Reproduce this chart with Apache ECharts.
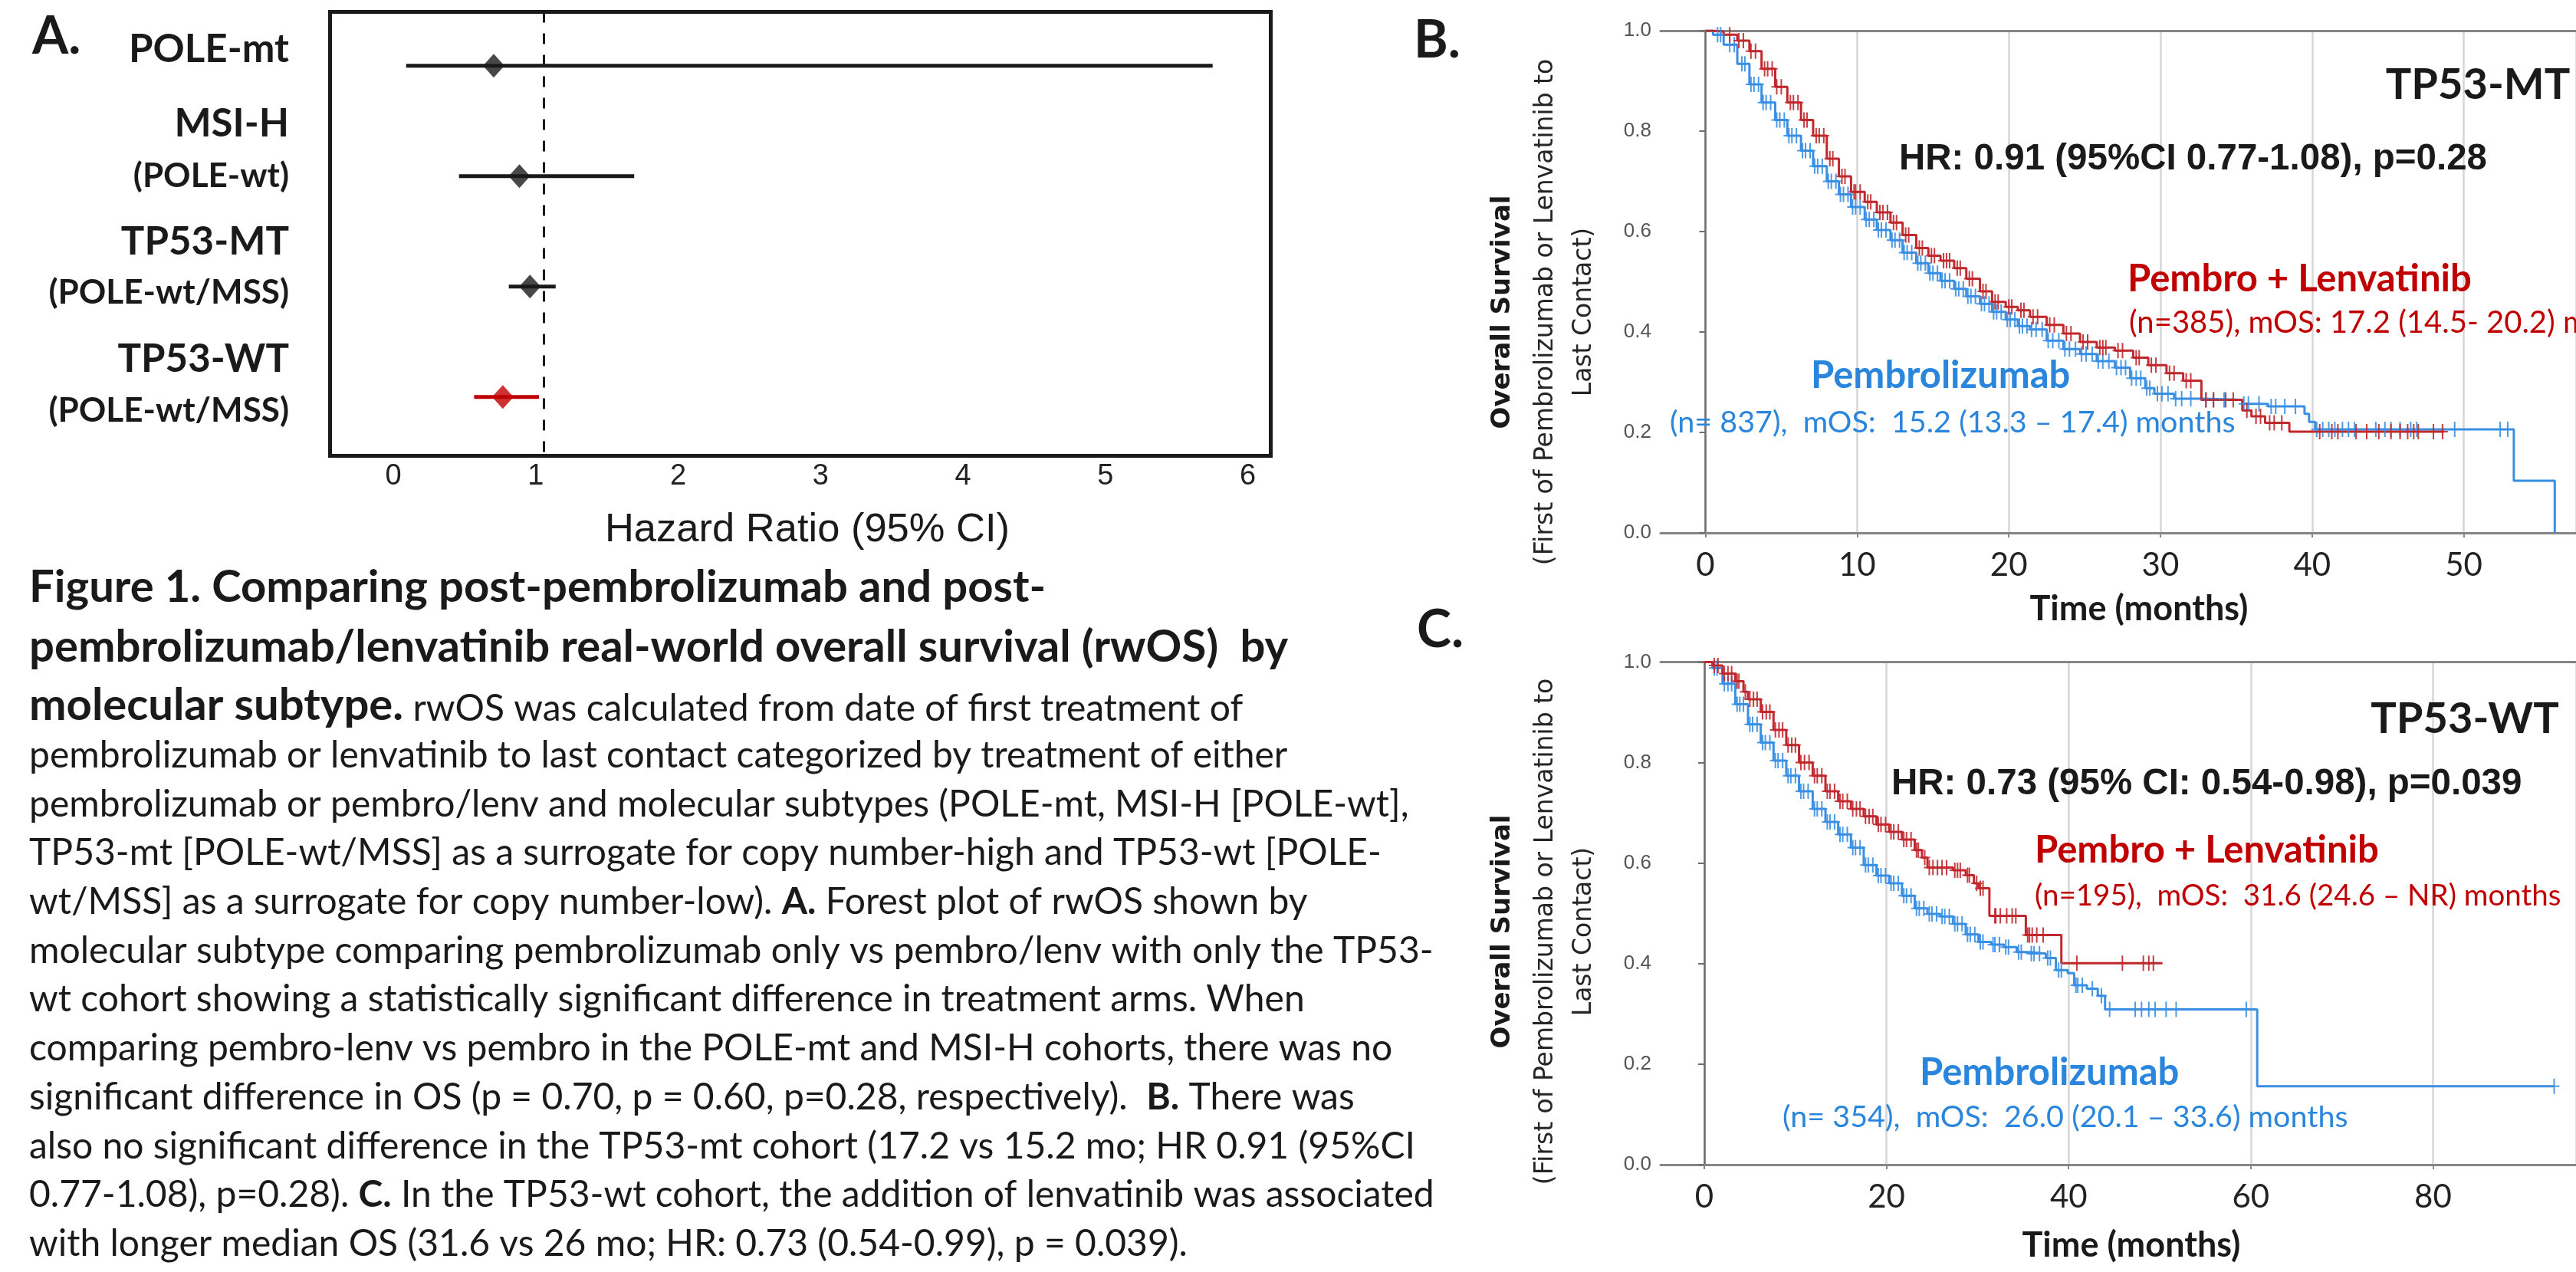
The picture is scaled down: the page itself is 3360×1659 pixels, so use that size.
<!DOCTYPE html>
<html>
<head>
<meta charset="utf-8">
<script src="https://cdn.jsdelivr.net/npm/echarts@6/dist/echarts.min.js"></script>
<style>html,body{margin:0;padding:0;background:#fff}#c{width:3360px;height:1659px}</style>
</head>
<body>
<div id="c"></div>
<script>
// ================= DATA =================
const forestGroups   = ['POLE-mt', 'MSI-H', 'TP53-MT', 'TP53-WT'];
const forestSubLabel = ['', '(POLE-wt)', '(POLE-wt/MSS)', '(POLE-wt/MSS)'];
const forestHR       = [0.67, 0.84, 0.91, 0.73];
const forestLow      = [0.09, 0.44, 0.77, 0.54];
const forestHigh     = [5.43, 1.60, 1.08, 0.97];
const forestHighlight= [false, false, false, true];
const forestTicks    = [0, 1, 2, 3, 4, 5, 6];
const forestRef      = 1;
const forestXTitle   = 'Hazard Ratio (95% CI)';

// Panel B (TP53-MT) Kaplan-Meier steps [month, survival]
const kmB_pembro = [[0,1],[0.5,0.992],[1.2,0.972],[2.1,0.934],[2.9,0.893],[3.7,0.857],[4.6,0.822],[5.4,0.791],[6.3,0.761],[7.1,0.73],[8.0,0.7],[8.8,0.674],[9.6,0.649],[10.5,0.624],[11.3,0.603],[12.2,0.583],[13.0,0.558],[13.9,0.537],[14.7,0.517],[15.5,0.502],[16.4,0.486],[17.2,0.471],[18.1,0.456],[18.9,0.44],[19.8,0.425],[20.6,0.412],[21.4,0.405],[22.5,0.383],[23.6,0.366],[24.7,0.356],[25.8,0.342],[27.0,0.329],[28.0,0.308],[29.0,0.288],[29.6,0.277],[30.9,0.267],[32.9,0.265],[35.4,0.257],[37.1,0.252],[39.5,0.237],[39.8,0.221],[40.2,0.206],[53.3,0.104],[56.0,0]];
const kmB_combo = [[0,1],[0.5,0.998],[1.2,0.992],[2.1,0.98],[2.9,0.959],[3.7,0.924],[4.6,0.888],[5.4,0.857],[6.3,0.822],[7.1,0.791],[8.0,0.745],[8.8,0.71],[9.6,0.679],[10.5,0.659],[11.3,0.638],[12.2,0.618],[13.0,0.593],[13.9,0.567],[14.7,0.552],[15.5,0.542],[16.4,0.527],[17.2,0.506],[18.1,0.481],[18.9,0.46],[19.8,0.45],[20.6,0.443],[21.4,0.43],[22.5,0.414],[23.6,0.397],[24.7,0.38],[25.8,0.369],[27.0,0.363],[28.2,0.349],[29.2,0.334],[30.4,0.318],[31.5,0.303],[32.7,0.265],[35.4,0.244],[36.0,0.232],[36.9,0.219],[38.5,0.2015],[48.7,0.2015]];
// censored observations [month, survival]
const censB_pembro = [[0.8,.992],[1.0,.992],[1.6,.972],[1.9,.972],[2.4,.934],[2.6,.934],[3.0,.893],[3.2,.893],[3.5,.893],[3.8,.857],[4.0,.857],[4.3,.857],[4.7,.822],[4.9,.822],[5.2,.822],[5.5,.791],[5.7,.791],[6.0,.791],[6.4,.761],[6.6,.761],[6.9,.761],[7.2,.73],[7.4,.73],[7.7,.73],[8.1,.7],[8.3,.7],[8.6,.7],[8.9,.674],[9.1,.674],[9.4,.674],[9.7,.649],[9.9,.649],[10.2,.649],[10.6,.624],[10.8,.624],[11.1,.624],[11.4,.603],[11.6,.603],[11.9,.603],[12.3,.583],[12.5,.583],[12.8,.583],[13.1,.558],[13.3,.558],[13.6,.558],[14.0,.537],[14.2,.537],[14.5,.537],[14.8,.517],[15.0,.517],[15.3,.517],[15.6,.502],[15.8,.502],[16.1,.502],[16.5,.486],[16.7,.486],[17.0,.486],[17.3,.471],[17.5,.471],[17.8,.471],[18.2,.456],[18.4,.456],[18.7,.456],[19.0,.44],[19.2,.44],[19.5,.44],[19.9,.425],[20.1,.425],[20.4,.425],[20.7,.412],[20.9,.412],[21.2,.412],[21.5,.405],[21.8,.405],[22.2,.405],[22.6,.383],[22.9,.383],[23.3,.383],[23.7,.366],[24.0,.366],[24.4,.366],[24.8,.356],[25.1,.356],[25.5,.356],[25.9,.342],[26.2,.342],[26.6,.342],[27.1,.329],[27.4,.329],[27.7,.329],[28.1,.308],[28.4,.308],[28.7,.308],[29.1,.288],[29.3,.288],[29.8,.277],[30.1,.277],[30.5,.277],[31.0,.267],[31.4,.267],[32.0,.267],[33.0,.265],[33.5,.265],[34.2,.265],[35.5,.257],[35.8,.257],[36.5,.257],[37.3,.252],[37.6,.252],[38.2,.252],[38.9,.252],[40.3,.206],[40.7,.206],[41.1,.206],[41.5,.206],[42.0,.206],[42.4,.206],[42.8,.206],[44.2,.206],[44.8,.206],[45.2,.206],[45.8,.206],[46.5,.206],[46.9,.206],[49.4,.206],[52.4,.206],[52.9,.206]];
const censB_combo = [[1.6,.992],[2.2,.98],[2.5,.98],[3.0,.959],[3.3,.959],[3.9,.924],[4.1,.924],[4.4,.924],[4.7,.888],[5.0,.888],[5.6,.857],[5.8,.857],[6.1,.857],[6.5,.822],[6.7,.822],[7.3,.791],[7.5,.791],[7.8,.791],[8.2,.745],[8.4,.745],[9.0,.71],[9.2,.71],[9.8,.679],[9.9,.679],[10.2,.679],[10.7,.659],[10.9,.659],[11.5,.638],[11.7,.638],[12.0,.638],[12.4,.618],[12.6,.618],[13.2,.593],[13.4,.593],[14.1,.567],[14.3,.567],[14.9,.552],[15.1,.552],[15.7,.542],[15.9,.542],[16.1,.542],[16.6,.527],[16.8,.527],[17.4,.506],[17.6,.506],[18.3,.481],[18.5,.481],[19.1,.46],[19.3,.46],[20.0,.45],[20.2,.45],[20.8,.443],[21.0,.443],[21.6,.43],[21.9,.43],[22.7,.414],[23.0,.414],[23.8,.397],[24.1,.397],[24.9,.38],[25.2,.38],[26.0,.369],[26.2,.369],[26.4,.369],[27.2,.363],[27.5,.363],[28.4,.349],[28.6,.349],[29.4,.334],[29.7,.334],[30.6,.318],[30.9,.318],[31.7,.303],[32.0,.303],[33.0,.265],[33.5,.265],[34.3,.265],[34.8,.265],[35.7,.244],[36.3,.232],[36.6,.232],[37.2,.219],[37.5,.219],[38.0,.219],[40.5,.2015],[41.3,.2015],[41.7,.2015],[42.9,.2015],[43.6,.2015],[44.4,.2015],[45.2,.2015],[45.8,.2015],[46.3,.2015],[46.7,.2015],[47.0,.2015],[48.0,.2015],[48.6,.2015]];

// Panel C (TP53-WT)
const kmC_pembro = [[0,1],[0.9,0.988],[2.0,0.957],[3.4,0.916],[4.8,0.876],[6.2,0.84],[7.6,0.804],[9.0,0.774],[10.4,0.743],[11.9,0.708],[13.3,0.682],[14.7,0.657],[16.1,0.631],[17.5,0.596],[18.9,0.575],[20.3,0.56],[21.7,0.535],[23.1,0.51],[24.5,0.499],[25.9,0.494],[27.3,0.479],[28.7,0.458],[30.1,0.443],[31.5,0.438],[32.9,0.433],[34.3,0.423],[35.7,0.42],[37.5,0.411],[38.6,0.387],[39.9,0.381],[40.6,0.357],[42.0,0.35],[43.2,0.336],[44.0,0.309],[60.7,0.156],[93.3,0.156]];
const kmC_combo = [[0,1],[0.9,0.993],[2.0,0.977],[3.4,0.962],[4.3,0.941],[4.8,0.926],[6.2,0.901],[7.6,0.865],[9.0,0.835],[10.4,0.8],[11.9,0.774],[13.3,0.743],[14.7,0.723],[16.1,0.708],[17.5,0.693],[18.9,0.677],[20.3,0.662],[21.7,0.647],[23.1,0.626],[23.9,0.611],[24.5,0.591],[27.3,0.586],[28.7,0.576],[29.6,0.56],[30.1,0.55],[31.3,0.495],[35.3,0.457],[39.2,0.401],[50.3,0.401]];
const censC_pembro = [[1.1,.988],[1.4,.988],[2.2,.957],[2.6,.957],[3.0,.957],[3.6,.916],[3.9,.916],[4.3,.916],[5.0,.876],[5.3,.876],[5.8,.876],[6.4,.84],[6.7,.84],[7.2,.84],[7.8,.804],[8.1,.804],[8.6,.804],[9.2,.774],[9.5,.774],[10.0,.774],[10.6,.743],[10.9,.743],[11.4,.743],[12.1,.708],[12.4,.708],[12.9,.708],[13.5,.682],[13.8,.682],[14.3,.682],[14.9,.657],[15.2,.657],[15.7,.657],[16.3,.631],[16.6,.631],[17.1,.631],[17.7,.596],[18.0,.596],[18.5,.596],[19.1,.575],[19.4,.575],[19.9,.575],[20.5,.56],[20.8,.56],[21.3,.56],[21.9,.535],[22.2,.535],[22.7,.535],[23.3,.51],[23.6,.51],[24.1,.51],[24.7,.499],[25.0,.499],[25.5,.499],[26.1,.494],[26.4,.494],[26.9,.494],[27.5,.479],[27.8,.479],[28.3,.479],[28.9,.458],[29.2,.458],[29.7,.458],[30.3,.443],[30.6,.443],[31.7,.438],[31.9,.438],[32.4,.438],[33.1,.433],[33.4,.433],[34.5,.423],[34.8,.423],[35.9,.42],[36.2,.42],[36.8,.42],[37.7,.411],[38.0,.411],[38.9,.387],[39.2,.387],[40.8,.357],[41.0,.357],[41.5,.357],[42.6,.35],[43.6,.336],[44.5,.309],[47.3,.309],[48.0,.309],[48.8,.309],[49.5,.309],[50.7,.309],[51.8,.309],[59.5,.309],[93.3,.156]];
const censC_combo = [[1.1,.993],[1.5,.993],[2.2,.977],[2.6,.977],[3.0,.977],[3.6,.962],[3.8,.962],[4.5,.941],[5.0,.926],[5.4,.926],[5.8,.926],[6.4,.901],[6.8,.901],[7.2,.901],[7.8,.865],[8.2,.865],[8.6,.865],[9.2,.835],[9.6,.835],[10.0,.835],[10.6,.8],[11.0,.8],[11.5,.8],[12.1,.774],[12.4,.774],[12.9,.774],[13.5,.743],[13.8,.743],[14.3,.743],[14.9,.723],[15.2,.723],[15.7,.723],[16.3,.708],[16.7,.708],[17.1,.708],[17.7,.693],[18.1,.693],[18.5,.693],[19.1,.677],[19.4,.677],[19.9,.677],[20.5,.662],[20.8,.662],[21.3,.662],[21.9,.647],[22.2,.647],[22.7,.647],[23.3,.626],[23.5,.626],[24.2,.611],[24.7,.591],[25.1,.591],[25.6,.591],[26.1,.591],[26.6,.591],[27.5,.586],[27.8,.586],[28.1,.586],[28.9,.576],[29.1,.576],[29.9,.56],[30.3,.55],[30.6,.55],[31.9,.495],[32.0,.495],[32.5,.495],[33.2,.495],[33.8,.495],[34.2,.495],[35.5,.457],[35.7,.457],[36.0,.457],[36.5,.457],[37.2,.457],[40.9,.401],[45.9,.401],[48.2,.401],[48.8,.401],[49.3,.401]];

// Texts
const kmB_title = 'TP53-MT';
const kmB_hr = 'HR: 0.91 (95%CI 0.77-1.08), p=0.28';
const kmB_comboName = 'Pembro + Lenvatinib';
const kmB_comboStats = '(n=385), mOS: 17.2 (14.5- 20.2) months';
const kmB_pembroName = 'Pembrolizumab';
const kmB_pembroStats = '(n= 837),  mOS:  15.2 (13.3 \u2013 17.4) months';
const kmC_title = 'TP53-WT';
const kmC_hr = 'HR: 0.73 (95% CI: 0.54-0.98), p=0.039';
const kmC_comboName = 'Pembro + Lenvatinib';
const kmC_comboStats = '(n=195),  mOS:  31.6 (24.6 \u2013 NR) months';
const kmC_pembroName = 'Pembrolizumab';
const kmC_pembroStats = '(n= 354),  mOS:  26.0 (20.1 \u2013 33.6) months';
const kmYTitle = ['Overall Survival', '(First of Pembrolizumab or Lenvatinib to', 'Last Contact)'];
const kmXTitle = 'Time (months)';
const panelLetters = ['A.', 'B.', 'C.'];

const captionLines = [
  '{t|Figure 1. Comparing post-pembrolizumab and post-}',
  '{t|pembrolizumab/lenvatinib real-world overall survival (rwOS)  by}',
  '{t|molecular subtype.}{n| rwOS was calculated from date of first treatment of}',
  '{n|pembrolizumab or lenvatinib to last contact categorized by treatment of either}',
  '{n|pembrolizumab or pembro/lenv and molecular subtypes (POLE-mt, MSI-H [POLE-wt],}',
  '{n|TP53-mt [POLE-wt/MSS] as a surrogate for copy number-high and TP53-wt [POLE-}',
  '{n|wt/MSS] as a surrogate for copy number-low). }{b|A.}{n| Forest plot of rwOS shown by}',
  '{n|molecular subtype comparing pembrolizumab only vs pembro/lenv with only the TP53-}',
  '{n|wt cohort showing a statistically significant difference in treatment arms. When}',
  '{n|comparing pembro-lenv vs pembro in the POLE-mt and MSI-H cohorts, there was no}',
  '{n|significant difference in OS (p = 0.70, p = 0.60, p=0.28, respectively).  }{b|B.}{n| There was}',
  '{n|also no significant difference in the TP53-mt cohort (17.2 vs 15.2 mo; HR 0.91 (95%CI}',
  '{n|0.77-1.08), p=0.28). }{b|C.}{n| In the TP53-wt cohort, the addition of lenvatinib was associated}',
  '{n|with longer median OS (31.6 vs 26 mo; HR: 0.73 (0.54-0.99), p = 0.039).}'
];

// ================= LAYOUT / STYLE =================
const W = 3360, H = 1659;
const INK = '#1a1a1a', RED = '#c00000', RED_L = '#c0282d', BLUE_L = '#3a8fe3', BLUE_T = '#2a86dc';
const PLUS = 'path://M6,0H8V9H14V11H8V20H6V11H0V9H6Z';

const FA = {left: 430.5, top: 15.5, width: 1227, height: 579};
const FL = {left: 513, width: 1114.5};
const GB = {top: 40, height: 655, axisX: 2166, zeroX: 2224.5, xMax: 57.4};
const GC = {top: 863.5, height: 655.5, axisX: 2166, zeroX: 2223, xMax: 95.7};

const chart = echarts.init(document.getElementById('c'), null, {width: W, height: H, renderer: 'canvas'});

function txt(x, y, text, size, o) {
  o = o || {};
  const al = o.align || 'left';
  const st = {
    text: text, x: 0, y: 0,
    fontSize: size, fontFamily: o.family || 'Lato', fontWeight: o.weight || 'normal',
    fill: o.color || INK,
    align: al, textAlign: al, verticalAlign: 'middle', textVerticalAlign: 'middle'
  };
  if (o.rich) st.rich = o.rich;
  return {type: 'text', x: x, y: y, rotation: o.rot || 0, silent: true, z: 100, style: st};
}

const graphics = [];
graphics.push(txt(42, 48, panelLetters[0], 68, {weight: 'bold'}));
graphics.push(txt(1844, 53, panelLetters[1], 68, {weight: 'bold'}));
graphics.push(txt(1848, 822, panelLetters[2], 68, {weight: 'bold'}));

const mainY = [65, 162, 316, 469];
const subY = [null, 230, 382, 536];
forestGroups.forEach(function (g, i) {
  graphics.push(txt(377, mainY[i], g, 51, {weight: 'bold', align: 'right'}));
  if (forestSubLabel[i]) graphics.push(txt(377, subY[i], forestSubLabel[i], 44, {weight: 'bold', align: 'right'}));
});
graphics.push(txt(1053, 692, forestXTitle, 52.5, {family: 'Liberation Sans', align: 'center'}));

function kmTexts(T) {
  graphics.push(txt(T.titleX, T.titleY, T.title, 56, {weight: 'bold', align: 'center'}));
  graphics.push(txt(T.hrX, T.hrY, T.hr, 47.5, {family: 'Liberation Sans', weight: 'bold'}));
  graphics.push(txt(T.cnX, T.cnY, T.cn, 49, {weight: 'bold', color: RED}));
  graphics.push(txt(T.csX, T.csY, T.cs, T.csSize, {color: RED}));
  graphics.push(txt(T.pnX, T.pnY, T.pn, 49, {weight: 'bold', color: BLUE_T}));
  graphics.push(txt(T.psX, T.psY, T.ps, 39.5, {color: BLUE_T}));
  graphics.push(txt(1960, T.yt, kmYTitle[0], 34, {family: 'DejaVu Sans', weight: 'bold', align: 'center', rot: Math.PI / 2}));
  graphics.push(txt(2016, T.yt, kmYTitle[1], 33, {family: 'DejaVu Sans', align: 'center', rot: Math.PI / 2, color: '#262626'}));
  graphics.push(txt(2066, T.yt, kmYTitle[2], 33, {family: 'DejaVu Sans', align: 'center', rot: Math.PI / 2, color: '#262626'}));
  graphics.push(txt(T.xtX, T.xtY, kmXTitle, 45, {weight: 'bold', align: 'center'}));
}
kmTexts({title: kmB_title, titleX: 3232, titleY: 111, hr: kmB_hr, hrX: 2477, hrY: 208,
  cn: kmB_comboName, cnX: 2775, cnY: 364, cs: kmB_comboStats, csX: 2777, csY: 421, csSize: 40,
  pn: kmB_pembroName, pnX: 2362, pnY: 490, ps: kmB_pembroStats, psX: 2178, psY: 551,
  yt: 407, xtX: 2790, xtY: 794});
kmTexts({title: kmC_title, titleX: 3215, titleY: 938, hr: kmC_hr, hrX: 2467, hrY: 1023,
  cn: kmC_comboName, cnX: 2654, cnY: 1109, cs: kmC_comboStats, csX: 2654, csY: 1169, csSize: 38.5,
  pn: kmC_pembroName, pnX: 2504, pnY: 1399, ps: kmC_pembroStats, psX: 2325, psY: 1457,
  yt: 1215, xtX: 2780, xtY: 1624});

const capY = [766, 844, 920, 986, 1050, 1113, 1177, 1241, 1304, 1368, 1432, 1496, 1559, 1623];
const capRich = {
  t: {fontFamily: 'Lato', fontWeight: 'bold', fontSize: 58, fill: INK, verticalAlign: 'bottom'},
  n: {fontFamily: 'Lato', fontWeight: 'normal', fontSize: 48, fill: INK, verticalAlign: 'bottom'},
  b: {fontFamily: 'Lato', fontWeight: 'bold', fontSize: 48, fill: INK, verticalAlign: 'bottom'}
};
captionLines.forEach(function (line, i) {
  graphics.push(txt(38, capY[i], line, 48, {rich: capRich}));
});

// ================= SERIES =================
const forestCI = forestGroups.map(function (g, i) {
  return {value: [forestLow[i], forestHigh[i], i + 1], itemStyle: {color: forestHighlight[i] ? RED : INK}};
});
const forestPts = forestGroups.map(function (g, i) {
  return {value: [forestHR[i], i + 1], itemStyle: {color: forestHighlight[i] ? RED : INK}};
});

function kmLine(data, color, xi, yi) {
  return {type: 'line', step: 'end', data: data, xAxisIndex: xi, yAxisIndex: yi, showSymbol: false, symbol: 'none',
    lineStyle: {color: color, width: 3}, itemStyle: {color: color}, silent: true, z: 3};
}
function kmCens(data, color, xi, yi) {
  return {type: 'scatter', data: data, xAxisIndex: xi, yAxisIndex: yi, symbol: PLUS, symbolSize: [14, 20],
    itemStyle: {color: color, opacity: 0.9}, silent: true, z: 4};
}

const kmYAxis = function (gi, offset) {
  return {type: 'value', gridIndex: gi, min: 0, max: 1, interval: 0.2, offset: offset,
    axisLine: {show: true, lineStyle: {color: '#6e6e6e', width: 2.5}},
    axisTick: {show: true, length: 8, lineStyle: {color: '#6e6e6e', width: 2}},
    axisLabel: {fontSize: 26, fontFamily: 'Liberation Sans', color: '#555', margin: 12, formatter: function (v) { return v.toFixed(1); }},
    splitLine: {show: false}};
};
const kmXAxis = function (gi, max, interval) {
  return {type: 'value', gridIndex: gi, min: 0, max: max, interval: interval,
    axisLine: {show: false}, axisTick: {show: true, length: 6, lineStyle: {color: '#888', width: 2}},
    axisLabel: {fontSize: 42, fontFamily: 'Lato', color: '#222', margin: 21, showMaxLabel: false},
    splitLine: {show: true, lineStyle: {color: '#d6d6d6', width: 2.5}}};
};
const frameAxis = function (gi, pos) {
  return {type: 'value', gridIndex: gi, min: 0, max: 1, position: pos,
    axisLine: {show: true, onZero: false, lineStyle: {color: '#858585', width: 3}},
    axisTick: {show: false}, axisLabel: {show: false}, splitLine: {show: false}};
};
const hiddenY = function (gi) {
  return {type: 'value', gridIndex: gi, min: 0, max: 1, show: false, splitLine: {show: false}};
};

const option = {
  animation: false,
  backgroundColor: '#ffffff',
  grid: [
    {left: FA.left, top: FA.top, width: FA.width, height: FA.height, show: true, borderColor: INK, borderWidth: 5, backgroundColor: 'transparent'},
    {left: FL.left, top: FA.top, width: FL.width, height: FA.height},
    {left: GB.zeroX, top: GB.top, width: W - GB.zeroX, height: GB.height},
    {left: GB.axisX, top: GB.top, width: W - GB.axisX, height: GB.height},
    {left: GC.zeroX, top: GC.top, width: W - GC.zeroX, height: GC.height},
    {left: GC.axisX, top: GC.top, width: W - GC.axisX, height: GC.height}
  ],
  xAxis: [
    {type: 'value', gridIndex: 0, min: (FA.left - 512) / 197, max: (FA.left + FA.width - 512) / 197, show: false, splitLine: {show: false}},
    {type: 'value', gridIndex: 1, min: forestTicks[0], max: forestTicks[forestTicks.length - 1], interval: 1,
      axisLine: {show: false}, axisTick: {show: false}, splitLine: {show: false},
      axisLabel: {fontSize: 38, fontFamily: 'Liberation Sans', color: '#222', margin: 8}},
    kmXAxis(2, GB.xMax, 10),
    frameAxis(3, 'bottom'),
    frameAxis(3, 'top'),
    kmXAxis(4, GC.xMax, 20),
    frameAxis(5, 'bottom'),
    frameAxis(5, 'top')
  ],
  yAxis: [
    {type: 'value', gridIndex: 0, min: 0.512, max: 4.533, inverse: true, show: false, splitLine: {show: false}},
    hiddenY(1),
    kmYAxis(2, GB.zeroX - GB.axisX),
    hiddenY(3),
    kmYAxis(4, GC.zeroX - GC.axisX),
    hiddenY(5)
  ],
  series: [
    {type: 'custom', xAxisIndex: 0, yAxisIndex: 0, data: forestCI, encode: {x: [0, 1], y: 2}, silent: true, z: 5,
      renderItem: function (params, api) {
        const a = api.coord([api.value(0), api.value(2)]);
        const b = api.coord([api.value(1), api.value(2)]);
        return {type: 'line', shape: {x1: a[0], y1: a[1], x2: b[0], y2: b[1]},
          style: {stroke: api.visual('color'), lineWidth: 5}};
      }},
    {type: 'scatter', xAxisIndex: 0, yAxisIndex: 0, data: forestPts, symbol: 'diamond', symbolSize: [28, 31], silent: true, z: 6,
      markLine: {silent: true, symbol: 'none', label: {show: false},
        lineStyle: {color: INK, width: 3, type: [14, 14]}, data: [{xAxis: forestRef}]}},
    kmLine(kmB_pembro, BLUE_L, 2, 2),
    kmCens(censB_pembro, BLUE_L, 2, 2),
    kmLine(kmB_combo, RED_L, 2, 2),
    kmCens(censB_combo, RED_L, 2, 2),
    kmLine(kmC_pembro, BLUE_L, 5, 4),
    kmCens(censC_pembro, BLUE_L, 5, 4),
    kmLine(kmC_combo, RED_L, 5, 4),
    kmCens(censC_combo, RED_L, 5, 4)
  ],
  graphic: {elements: graphics}
};
chart.setOption(option);
</script>
</body>
</html>
